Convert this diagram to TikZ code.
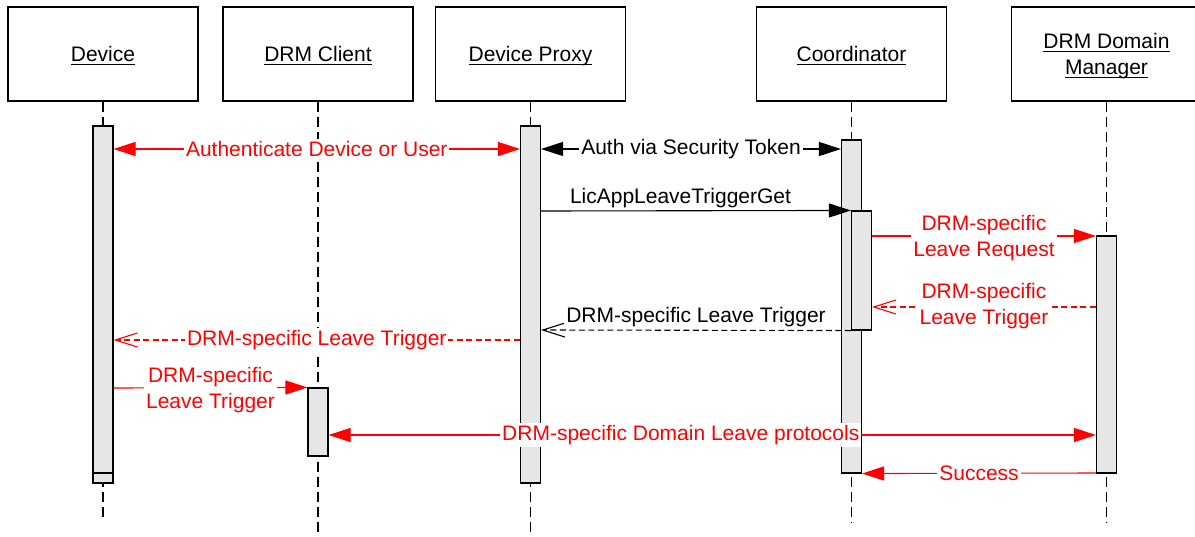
\documentclass[tikz,border=0pt]{standalone}
\usepackage{fontspec}
\setmainfont{Liberation Sans}
\usetikzlibrary{arrows.meta}
\definecolor{barfill}{RGB}{230,230,230}
\newcommand\headtext[1]{\raisebox{-1pt}[\height][\depth]{\underline{\raisebox{0pt}[\height][0pt]{#1}}}}

\begin{document}
\begin{tikzpicture}[x=0.5pt,y=-0.5pt,line width=0.55pt,
    head/.style={draw,minimum width=95pt,minimum height=47pt,inner sep=0pt,align=center,font=\fontsize{10.5}{13}\selectfont},
    act/.style={draw,fill=barfill,minimum width=10pt,inner sep=0pt},
    life/.style={dash pattern=on 5pt off 2.5pt},
    lbl/.style={fill=white,inner sep=1pt,align=center,font=\fontsize{10.5}{13}\selectfont},
    sync/.style={-{Triangle[length=11pt,width=7pt]}},
    both/.style={{Triangle[length=11pt,width=7pt]}-{Triangle[length=11pt,width=7pt]}},
    reply/.style={dash pattern=on 3pt off 1.75pt,-{Straight Barb[length=11pt,width=7pt]}}]

    \useasboundingbox (0,0) rectangle (1195,536);

    \node (dev) [head] at (103,54) {\headtext{Device}};
    \node (cli) [head] at (318,54) {\headtext{DRM Client}};
    \node (prox) [head] at (530.5,54) {\headtext{Device Proxy}};
    \node (co) [head] at (851.5,54) {\headtext{Coordinator}};
    \node (dm) [head] at (1106.5,54) {\headtext{DRM Domain}\\\headtext{Manager}};

    \coordinate (devEnd) at (103,521);
    \coordinate (cliEnd) at (318,536);
    \coordinate (proxEnd) at (530.5,536);
    \coordinate (coEnd) at (851.5,522);
    \coordinate (dmEnd) at (1106.5,522);

    \path[life]
        (dev) edge (devEnd)
        (cli) edge (cliEnd)
        (prox) edge (proxEnd)
        (co) edge (coEnd)
        (dm) edge (dmEnd)
    ;

    \node (devA) [act,minimum height=178.5pt] at (103,304.5) {};
    \node (devB) [act,minimum height=173.5pt] at (103,299.5) {};
    \node (cliA) [act,minimum height=34pt] at (318,422) {};
    \node (proxA) [act,minimum height=178.5pt] at (530.5,304.5) {};
    \node (coA) [act,minimum height=166.5pt] at (851.5,306.5) {};
    \node (coB) [act,minimum height=59.5pt] at (861.5,270.5) {};
    \node (dmA) [act,minimum height=118.5pt] at (1106.5,354.5) {};

    \path[red]
        (devA.east |- 0,149) edge[both] node[lbl] {Authenticate Device or User} (proxA.west |- 0,149)
        (coB.east |- 0,236) edge[sync] node[lbl,yshift=-1pt] {DRM-specific\\Leave Request} (dmA.west |- 0,236)
        (dmA.west |- 0,307) edge[reply] node[lbl,yshift=0.25pt] {DRM-specific\\Leave Trigger} (coB.east |- 0,307)
        (proxA.west |- 0,340) edge[reply] node[lbl] {DRM-specific Leave Trigger} (devA.east |- 0,340)
        (devA.east |- 0,388) edge[sync] node[lbl,yshift=-1pt] {DRM-specific\\Leave Trigger} (cliA.north west)
        (cliA.east |- 0,435) edge[both] node[lbl,pos=0.459] {DRM-specific Domain Leave protocols} (dmA.west |- 0,435)
        (dmA.west |- 0,473) edge[sync] node[lbl] {Success} (coA.south east)
    ;

    \path
        (proxA.east |- 0,149) edge[both] node[lbl] {Auth via Security Token} (coA.west |- 0,149)
        (proxA.east |- 0,211) edge[sync] node[lbl,above=0pt,pos=0.45] {LicAppLeaveTriggerGet} (coB.north west)
        (coB.south west) edge[reply] node[lbl,above=0.5pt] {DRM-specific Leave Trigger} (proxA.east |- 0,330)
    ;
\end{tikzpicture}
\end{document}
